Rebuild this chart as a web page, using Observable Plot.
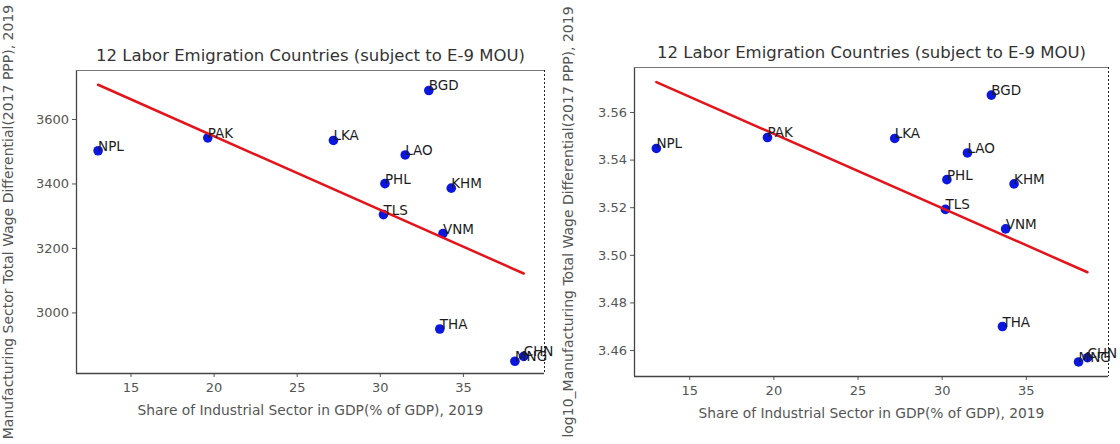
<!DOCTYPE html>
<html>
<head>
<meta charset="utf-8">
<script src="https://cdn.jsdelivr.net/npm/d3@7"></script>
<script src="https://cdn.jsdelivr.net/npm/@observablehq/plot@0.6"></script>
<style>
  html, body { margin: 0; padding: 0; background: #fff; }
  #wrap { display: flex; width: 1120px; height: 444px; }
  #wrap > * { flex: none; }
</style>
</head>
<body>
<div id="wrap"></div>
<script>
// ---- data ----
const countries = ["NPL", "PAK", "LKA", "BGD", "LAO", "PHL", "KHM", "TLS", "VNM", "THA", "MNG", "CHN"];
const industryShare = [13.02, 19.62, 27.18, 32.92, 31.5, 30.28, 34.27, 30.19, 33.77, 33.58, 38.1, 38.63];
const wageDiff = [3503, 3543, 3535, 3690, 3490, 3401, 3387, 3305, 3246, 2950, 2850, 2865];
const logWageDiff = [3.5449, 3.5495, 3.5491, 3.5673, 3.5430, 3.5318, 3.5300, 3.5193, 3.5111, 3.4701, 3.4552, 3.4570];

const xTicks = [15, 20, 25, 30, 35];
const yTicksLeft = [3000, 3200, 3400, 3600];
const yTicksRight = [3.46, 3.48, 3.50, 3.52, 3.54, 3.56];

const title = "12 Labor Emigration Countries (subject to E-9 MOU)";
const xLabel = "Share of Industrial Sector in GDP(% of GDP), 2019";
const yLabelLeft = "Manufacturing Sector Total Wage Differential(2017 PPP), 2019";
const yLabelRight = "log10_Manufacturing Total Wage Differential(2017 PPP), 2019";

const xDomain = [11.72, 39.88];
const yDomainLeft = [2812, 3752];
const yDomainRight = [3.4491, 3.5789];

function panel({yValues, yDomain, yTicks, tickFormat, yLabel, m}) {
  const data = countries.map((c, i) => ({c, x: industryShare[i], y: yValues[i]}));
  return Plot.plot({
    width: 560,
    height: 444,
    marginLeft: m[0], marginRight: m[1], marginTop: m[2], marginBottom: m[3],
    style: {fontFamily: "DejaVu Sans", fontSize: "13px", color: "#555", background: "#fff"},
    x: {domain: xDomain, ticks: xTicks, tickSize: 4, tickPadding: 5,
        label: xLabel, labelAnchor: "center", labelArrow: "none", labelOffset: 41},
    y: {domain: yDomain, ticks: yTicks, tickFormat, tickSize: 4, tickPadding: 3.5,
        label: yLabel, labelAnchor: "center", labelArrow: "none"},
    marks: [
      Plot.axisX({ticks: xTicks, tickSize: 4, tickPadding: 5, fontSize: 13, label: null}),
      Plot.axisY({ticks: yTicks, tickFormat, tickSize: 4, tickPadding: 3.5, fontSize: 13, label: null}),
      Plot.axisX({ticks: [], label: xLabel, labelAnchor: "center", labelArrow: "none",
                  labelOffset: 41, fontSize: 13.8}),
      Plot.axisY({ticks: [], label: yLabel, labelAnchor: "center", labelArrow: "none",
                  fontSize: 14}),
      Plot.ruleX([xDomain[0]], {stroke: "#444", strokeWidth: 1.3}),
      Plot.ruleY([yDomain[0]], {stroke: "#444", strokeWidth: 1.3}),
      Plot.ruleY([yDomain[1]], {stroke: "#777", strokeWidth: 1}),
      Plot.ruleX([xDomain[1]], {stroke: "#222", strokeWidth: 1, strokeDasharray: "2,2"}),
      Plot.dot(data, {x: "x", y: "y", r: 4.8, fill: "#0b17e0", stroke: "none"}),
      Plot.linearRegressionY(data, {x: "x", y: "y", stroke: "#e3141b", strokeWidth: 2.5, ci: 0}),
      Plot.text(data, {x: "x", y: "y", text: "c", textAnchor: "start", lineAnchor: "bottom",
                       fontSize: 13.5, fill: "#1c1c1c"}),
      Plot.text([title], {frameAnchor: "top", lineAnchor: "bottom", dy: -10,
                          fontSize: 16.5, fill: "#333"})
    ]
  });
}

const wrap = document.getElementById("wrap");
wrap.appendChild(panel({
  yValues: wageDiff, yDomain: yDomainLeft, yTicks: yTicksLeft,
  tickFormat: d => String(d), yLabel: yLabelLeft, m: [76, 16, 70, 71]
}));
wrap.appendChild(panel({
  yValues: logWageDiff, yDomain: yDomainRight, yTicks: yTicksRight,
  tickFormat: d => d.toFixed(2), yLabel: yLabelRight, m: [74, 12, 67, 68]
}));
</script>
</body>
</html>
